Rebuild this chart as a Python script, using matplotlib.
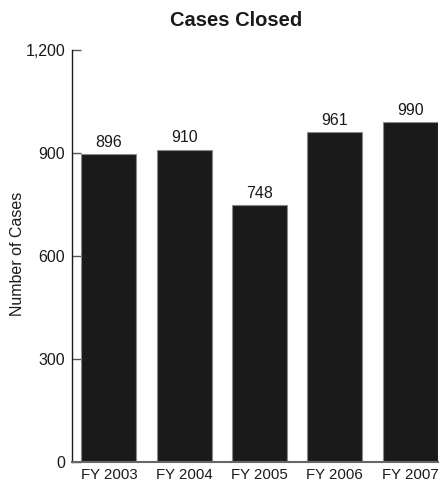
import matplotlib
matplotlib.use("Agg")
import matplotlib.pyplot as plt

categories = ["FY 2003", "FY 2004", "FY 2005", "FY 2006", "FY 2007"]
values = [896, 910, 748, 961, 990]
yticks = [0, 300, 600, 900, 1200]
ytick_labels = ["0", "300", "600", "900", "1,200"]

plt.rcParams['font.family'] = ['Liberation Sans', 'DejaVu Sans']

fig = plt.figure(figsize=(4.41, 4.84), dpi=100)
ax = fig.add_axes([72/441, 22/484, 366/441, 412/484])

x = list(range(len(categories)))
bars = ax.bar(x, values, width=0.73, color="#1a1a1a", edgecolor="#8a8a8a", linewidth=0.8, zorder=2)
for xi, v in zip(x, values):
    ax.text(xi, v + 12, str(v), ha="center", va="bottom", fontsize=11.5, color="#1a1a1a")

ax.set_xlim(-0.49, 4.37)
ax.set_ylim(0, 1200)
ax.set_yticks(yticks)
ax.set_yticklabels(ytick_labels, fontsize=11.5, color="#1a1a1a")
ax.set_xticks(x)
ax.set_xticklabels(categories, fontsize=10.8, color="#1a1a1a")
ax.tick_params(axis="x", length=0, pad=4)
ax.tick_params(axis="y", direction="in", length=6.5, width=1, color="#555555", pad=5)

for s in ["top", "right"]:
    ax.spines[s].set_visible(False)
ax.spines["left"].set_color("#1a1a1a")
ax.spines["left"].set_linewidth(1)
ax.spines["bottom"].set_color("#666666")
ax.spines["bottom"].set_linewidth(1.5)

fig.text(18/441, 1 - 254/484, "Number of Cases", rotation=90, ha="center", va="center",
         fontsize=11.5, color="#1a1a1a")
fig.text(236/441, 1 - 20/484, "Cases Closed", ha="center", va="center",
         fontsize=14.5, fontweight="bold", color="#1a1a1a")

fig.savefig("out.png", dpi=100)
